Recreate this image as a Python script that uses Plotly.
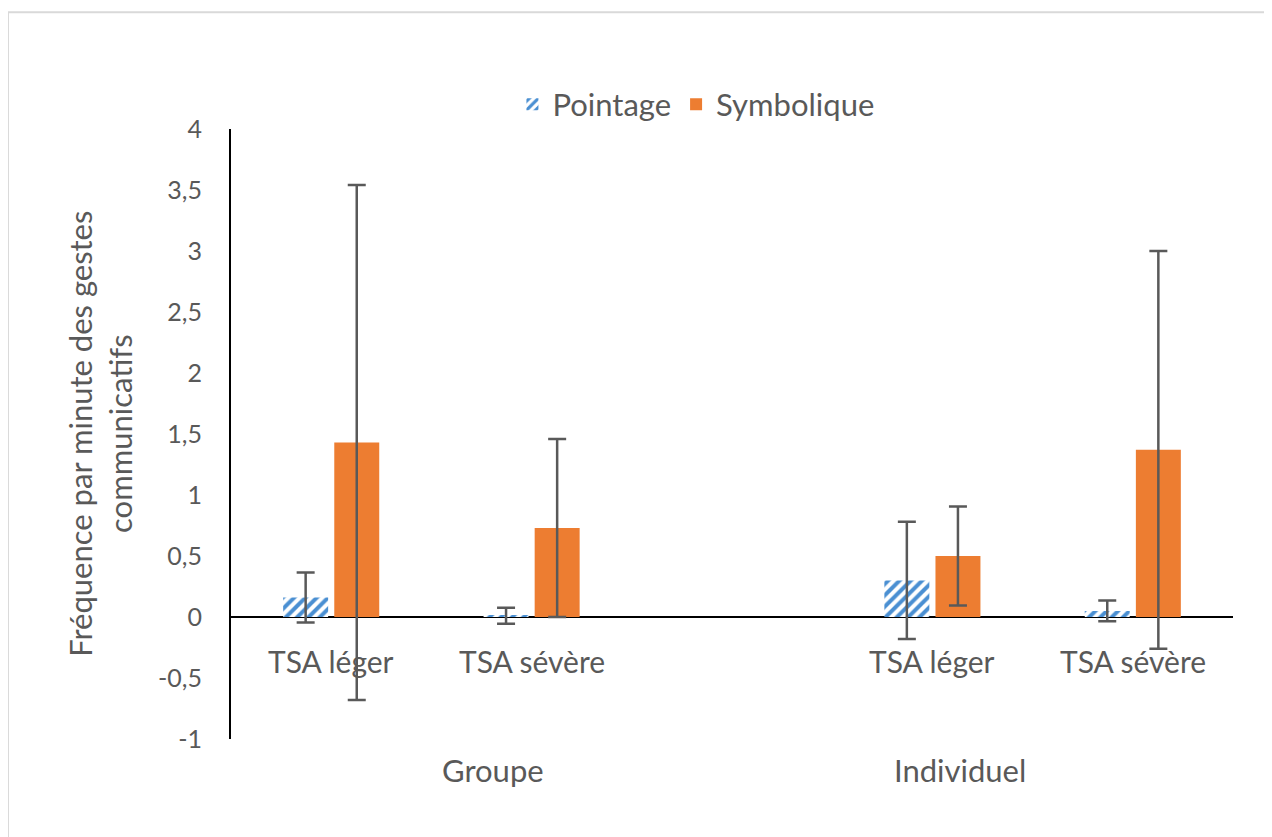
import plotly.graph_objects as go

# ---- data ----
groups = ["Groupe", "Individuel"]
categories = ["TSA léger", "TSA sévère", "TSA léger", "TSA sévère"]
cat_pos = [0, 1, 3, 4]
pointage = [0.16, 0.01, 0.30, 0.05]
pointage_err = [0.205, 0.065, 0.48, 0.085]
symbolique = [1.43, 0.73, 0.50, 1.37]
symbolique_err = [2.11, 0.73, 0.405, 1.63]
y_ticks = [-1, -0.5, 0, 0.5, 1, 1.5, 2, 2.5, 3, 3.5, 4]
y_ticktext = ["-1", "-0,5", "0", "0,5", "1", "1,5", "2", "2,5", "3", "3,5", "4"]
group_label_pos = [0.807, 3.138]

FONT = "Lato"
GREY = "#595959"
BLUE = "#4A8FD2"
ORANGE = "#ED7D31"

fig = go.Figure()
fig.add_trace(go.Bar(
    name="Pointage", x=cat_pos, y=pointage,
    marker=dict(color="white", line=dict(width=0),
                pattern=dict(shape="/", fgcolor=BLUE, fgopacity=1, bgcolor="white",
                             size=8, solidity=0.5)),
    error_y=dict(type="data", array=pointage_err, visible=True, color=GREY, thickness=2.5, width=9),
))
fig.add_trace(go.Bar(
    name="Symbolique", x=cat_pos, y=symbolique,
    marker=dict(color=ORANGE, line=dict(width=0)),
    error_y=dict(type="data", array=symbolique_err, visible=True, color=GREY, thickness=2.5, width=9),
))

annotations = []
for p, c in zip(cat_pos, categories):
    annotations.append(dict(x=p, y=-0.36, xref="x", yref="y", text=c, showarrow=False,
                            font=dict(family=FONT, size=30, color=GREY), xanchor="center", yanchor="middle"))
for p, g in zip(group_label_pos, groups):
    annotations.append(dict(x=p, y=-0.05, xref="x", yref="paper", text=g, showarrow=False,
                            font=dict(family=FONT, size=31, color=GREY), xanchor="center", yanchor="middle"))
annotations.append(dict(x=-0.131, y=0.5, xref="paper", yref="paper",
                        text="Fréquence par minute des gestes<br>communicatifs",
                        textangle=-90, showarrow=False,
                        font=dict(family=FONT, size=31, color=GREY), xanchor="center", yanchor="middle"))

fig.update_layout(
    width=1264, height=829,
    margin=dict(l=223, r=39, t=121, b=98),
    paper_bgcolor="white", plot_bgcolor="white",
    barmode="group", bargap=0.49, bargroupgap=0.12,
    font=dict(family=FONT, color=GREY),
    showlegend=True,
    legend=dict(orientation="h", x=0.464, y=1.04, xanchor="center", yanchor="middle",
                font=dict(family=FONT, size=31, color=GREY), bgcolor="rgba(0,0,0,0)"),
    xaxis=dict(range=[-0.5, 4.5], showticklabels=False, showgrid=False, zeroline=False,
               showline=False, ticks=""),
    yaxis=dict(range=[-1, 4], tickvals=y_ticks, ticktext=y_ticktext, showgrid=False,
               zeroline=True, zerolinecolor="black", zerolinewidth=2,
               showline=True, linecolor="black", linewidth=2, ticks="",
               ticklabelstandoff=22,
               tickfont=dict(family=FONT, size=25, color=GREY)),
    annotations=annotations,
    shapes=[dict(type="rect", xref="paper", yref="paper", x0=-0.2226, x1=1.2, y0=-0.3, y1=1.1915,
                 line=dict(color="#D9D9D9", width=2), fillcolor="rgba(0,0,0,0)", layer="below")],
)

fig.write_html("out.html")
